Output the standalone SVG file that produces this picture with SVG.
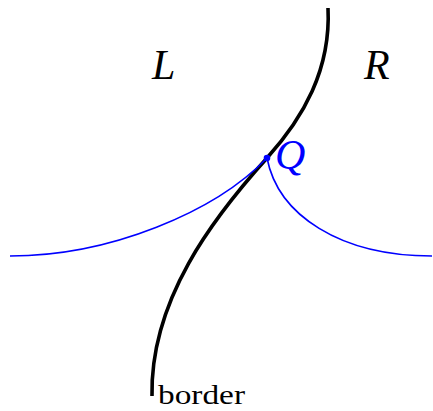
<svg xmlns="http://www.w3.org/2000/svg" width="433" height="411" viewBox="0 0 433 411">
<style>
.m{font-family:"Liberation Serif","DejaVu Serif",serif;font-style:italic;font-size:42px}
.t{font-family:"Liberation Serif","DejaVu Serif",serif;font-size:27px}
.blue{fill:none;stroke:#0000ff;stroke-width:1.6}
</style>
<g id="connectors">
<path id="border-curve" d="M328,8 C331,70 303,118 267,158 C213,218 150,300 152,396" fill="none" stroke="#000" stroke-width="3.6"/>
<path class="blue" d="M10,256 C110,256 215,212 267,158"/>
<path class="blue" d="M267,158 C278,215 340,256 432,256"/>
</g>
<g id="Q"><circle cx="267" cy="158" r="3.3" fill="#0000ff"/><text class="m" x="275" y="169" fill="#0000ff">Q</text></g>
<g id="L"><text class="m" x="152" y="79">L</text></g>
<g id="R"><text class="m" x="364" y="79">R</text></g>
<g id="border"><text class="t" x="158" y="404" textLength="87" lengthAdjust="spacingAndGlyphs">border</text></g>
</svg>
